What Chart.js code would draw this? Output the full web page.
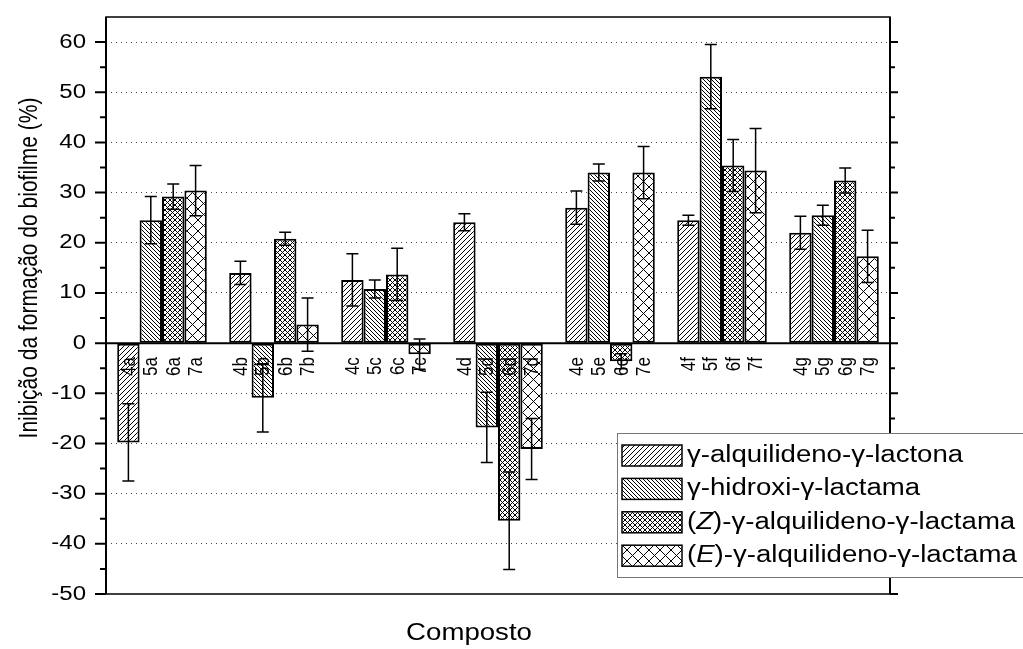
<!DOCTYPE html>
<html>
<head>
<meta charset="utf-8">
<title>Inibição da formação do biofilme</title>
<script src="https://cdn.jsdelivr.net/npm/chart.js@4"></script>
<style>
  html, body { margin: 0; padding: 0; background: #fff; }
  canvas { display: block; }
</style>
</head>
<body>
<canvas id="chart" width="1023" height="649"></canvas>
<script>
// compound groups and the four compound families
var groups = ['a', 'b', 'c', 'd', 'e', 'f', 'g'];
var prefixes = ['4', '5', '6', '7'];
var seriesNames = [
    'γ-alquilideno-γ-lactona',
    'γ-hidroxi-γ-lactama',
    '(Z)-γ-alquilideno-γ-lactama',
    '(E)-γ-alquilideno-γ-lactama'
];

// inhibition (%) and standard deviation per group
var lactona     = [-19.8, 14.0, 12.6, 24.1, 27.0, 24.5, 22.0];
var lactonaErr  = [7.7, 2.3, 5.2, 1.7, 3.3, 1.0, 3.3];
var hidroxi     = [24.5, -10.9, 10.8, -16.8, 34.0, 53.1, 25.5];
var hidroxiErr  = [4.7, 6.8, 1.8, 7.0, 1.7, 6.4, 2.0];
var lactamaZ    = [29.2, 20.8, 13.7, -35.4, -3.6, 35.4, 32.4];
var lactamaZErr = [2.5, 1.3, 5.2, 9.7, 1.5, 5.2, 2.5];
var lactamaE    = [30.4, 3.7, -2.2, -21.1, 34.0, 34.4, 17.3];
var lactamaEErr = [5.0, 5.3, 3.0, 6.1, 5.2, 8.4, 5.2];

var yTicks = [-50, -40, -30, -20, -10, 0, 10, 20, 30, 40, 50, 60];

var FONT = "'Liberation Sans', Arial, sans-serif";
var SX = 1.2;   // text is drawn slightly widened

// hatch fills: '/' and '\' line sets on a white tile
function hatch(step, dirs) {
    var c = document.createElement('canvas');
    c.width = step; c.height = step;
    var g = c.getContext('2d');
    g.fillStyle = '#fff';
    g.fillRect(0, 0, step, step);
    g.strokeStyle = '#000';
    g.lineWidth = 1;
    dirs.forEach(function (d) {
        for (var k = -1; k <= 1; k++) {
            g.beginPath();
            if (d === '/') {
                g.moveTo(k * step, step);
                g.lineTo(k * step + step, 0);
            } else {
                g.moveTo(k * step, 0);
                g.lineTo(k * step + step, step);
            }
            g.stroke();
        }
    });
    return g.createPattern(c, 'repeat');
}

var fills = [hatch(5, ['/']), hatch(4, ['\\']), hatch(5, ['/', '\\']), hatch(11, ['/', '\\'])];
var values = [lactona, hidroxi, lactamaZ, lactamaE];
var errors = [lactonaErr, hidroxiErr, lactamaZErr, lactamaEErr];

var datasets = values.map(function (v, i) {
    return {
        label: seriesNames[i],
        data: v,
        errors: errors[i],
        backgroundColor: fills[i],
        borderColor: '#000',
        borderWidth: 2,
        borderSkipped: false,
        categoryPercentage: 0.8,
        barPercentage: 1
    };
});

// text helper: widened glyphs, optional rotation
function text(ctx, str, x, y, size, align, rot, italic) {
    ctx.save();
    ctx.translate(x, y);
    ctx.scale(SX, 1);
    if (rot) ctx.rotate(rot);
    ctx.font = (italic ? 'italic ' : '') + size + 'px ' + FONT;
    ctx.textAlign = align;
    ctx.textBaseline = 'middle';
    ctx.fillText(str, 0, 0);
    var w = ctx.measureText(str).width * SX;
    ctx.restore();
    return w;
}

// axes frame, zero line, tick marks and tick labels
var framePlugin = {
    id: 'frame',
    afterDatasetsDraw: function (chart) {
        var ctx = chart.ctx, a = chart.chartArea, y = chart.scales.y;
        ctx.save();
        ctx.strokeStyle = '#000';
        ctx.fillStyle = '#000';
        ctx.lineWidth = 1.5;
        ctx.strokeRect(a.left, a.top, a.right - a.left, a.bottom - a.top);
        ctx.lineWidth = 2;
        ctx.beginPath();
        ctx.moveTo(a.left, a.top); ctx.lineTo(a.left, a.bottom);
        ctx.moveTo(a.right, a.top); ctx.lineTo(a.right, a.bottom);
        var y0 = y.getPixelForValue(0);
        ctx.moveTo(a.left, y0); ctx.lineTo(a.right, y0);
        ctx.stroke();
        yTicks.forEach(function (v) {
            var p = y.getPixelForValue(v);
            ctx.beginPath();
            ctx.moveTo(a.left - 11, p); ctx.lineTo(a.left, p);
            ctx.moveTo(a.right, p); ctx.lineTo(a.right + 8, p);
            ctx.stroke();
            if (v + 5 < y.max) {
                var m = y.getPixelForValue(v + 5);
                ctx.beginPath();
                ctx.moveTo(a.left - 6, m); ctx.lineTo(a.left, m);
                ctx.moveTo(a.right, m); ctx.lineTo(a.right + 5, m);
                ctx.stroke();
            }
            text(ctx, String(v), a.left - 20, p, 20, 'right');
        });
        ctx.restore();
    }
};

// compound labels under the zero line and error bars
var barPlugin = {
    id: 'barLabels',
    afterDatasetsDraw: function (chart) {
        var ctx = chart.ctx, y = chart.scales.y;
        var y0 = y.getPixelForValue(0);
        ctx.save();
        ctx.fillStyle = '#000';
        chart.data.datasets.forEach(function (ds, i) {
            chart.getDatasetMeta(i).data.forEach(function (el, j) {
                text(ctx, prefixes[i] + groups[j], el.x + 1, y0 + 14, 17, 'right', -Math.PI / 2);
            });
        });
        ctx.strokeStyle = '#000';
        ctx.lineWidth = 1.5;
        chart.data.datasets.forEach(function (ds, i) {
            chart.getDatasetMeta(i).data.forEach(function (el, j) {
                var hi = y.getPixelForValue(ds.data[j] + ds.errors[j]);
                var lo = y.getPixelForValue(ds.data[j] - ds.errors[j]);
                ctx.beginPath();
                ctx.moveTo(el.x, hi); ctx.lineTo(el.x, lo);
                ctx.moveTo(el.x - 6, hi); ctx.lineTo(el.x + 6, hi);
                ctx.moveTo(el.x - 6, lo); ctx.lineTo(el.x + 6, lo);
                ctx.stroke();
            });
        });
        ctx.restore();
    }
};

// axis titles and the boxed legend
var textPlugin = {
    id: 'texts',
    afterDraw: function (chart) {
        var ctx = chart.ctx;
        ctx.save();
        ctx.fillStyle = '#000';
        text(ctx, 'Composto', 469, 634, 23, 'center');
        text(ctx, 'Inibição da formação do biofilme (%)', 30, 268, 21, 'center', -Math.PI / 2);

        var bx = 617, by = 433, rowH = 33.4;
        ctx.fillStyle = '#fff';
        ctx.fillRect(bx, by, 430, 144);
        ctx.strokeStyle = '#777';
        ctx.lineWidth = 1;
        ctx.strokeRect(bx + 0.5, by + 0.5, 430, 144);
        seriesNames.forEach(function (name, i) {
            var cy = by + 22.5 + i * rowH;
            ctx.fillStyle = fills[i];
            ctx.fillRect(622, cy - 10.5, 60, 21);
            ctx.strokeStyle = '#000';
            ctx.lineWidth = 1.5;
            ctx.strokeRect(622, cy - 10.5, 60, 21);
            ctx.fillStyle = '#000';
            var x = 687;
            var m = name.match(/^\((\w)\)(.*)$/);
            if (m) {
                x += text(ctx, '(', x, cy, 23, 'left');
                x += text(ctx, m[1], x, cy, 23, 'left', 0, true);
                text(ctx, ')' + m[2], x, cy, 23, 'left');
            } else {
                text(ctx, name, x, cy, 23, 'left');
            }
        });
        ctx.restore();
    }
};

new Chart(document.getElementById('chart'), {
    type: 'bar',
    data: { labels: groups, datasets: datasets },
    options: {
        responsive: false,
        devicePixelRatio: 1,
        animation: false,
        layout: { padding: { left: 0, top: 17, right: 133, bottom: 55 } },
        plugins: { legend: { display: false }, tooltip: { enabled: false } },
        scales: {
            x: { display: false },
            y: {
                min: -50,
                max: 65,
                afterBuildTicks: function (s) {
                    s.ticks = yTicks.map(function (v) { return { value: v }; });
                },
                afterFit: function (s) { s.width = 106; },
                grid: {
                    drawTicks: false,
                    lineWidth: 1,
                    color: function (c) {
                        return (c.tick && (c.tick.value === 0 || c.tick.value === -50)) ? 'rgba(0,0,0,0)' : '#444';
                    }
                },
                border: { display: false, dash: [1, 4] },
                ticks: { display: false }
            }
        }
    },
    plugins: [framePlugin, barPlugin, textPlugin]
});
</script>
</body>
</html>
